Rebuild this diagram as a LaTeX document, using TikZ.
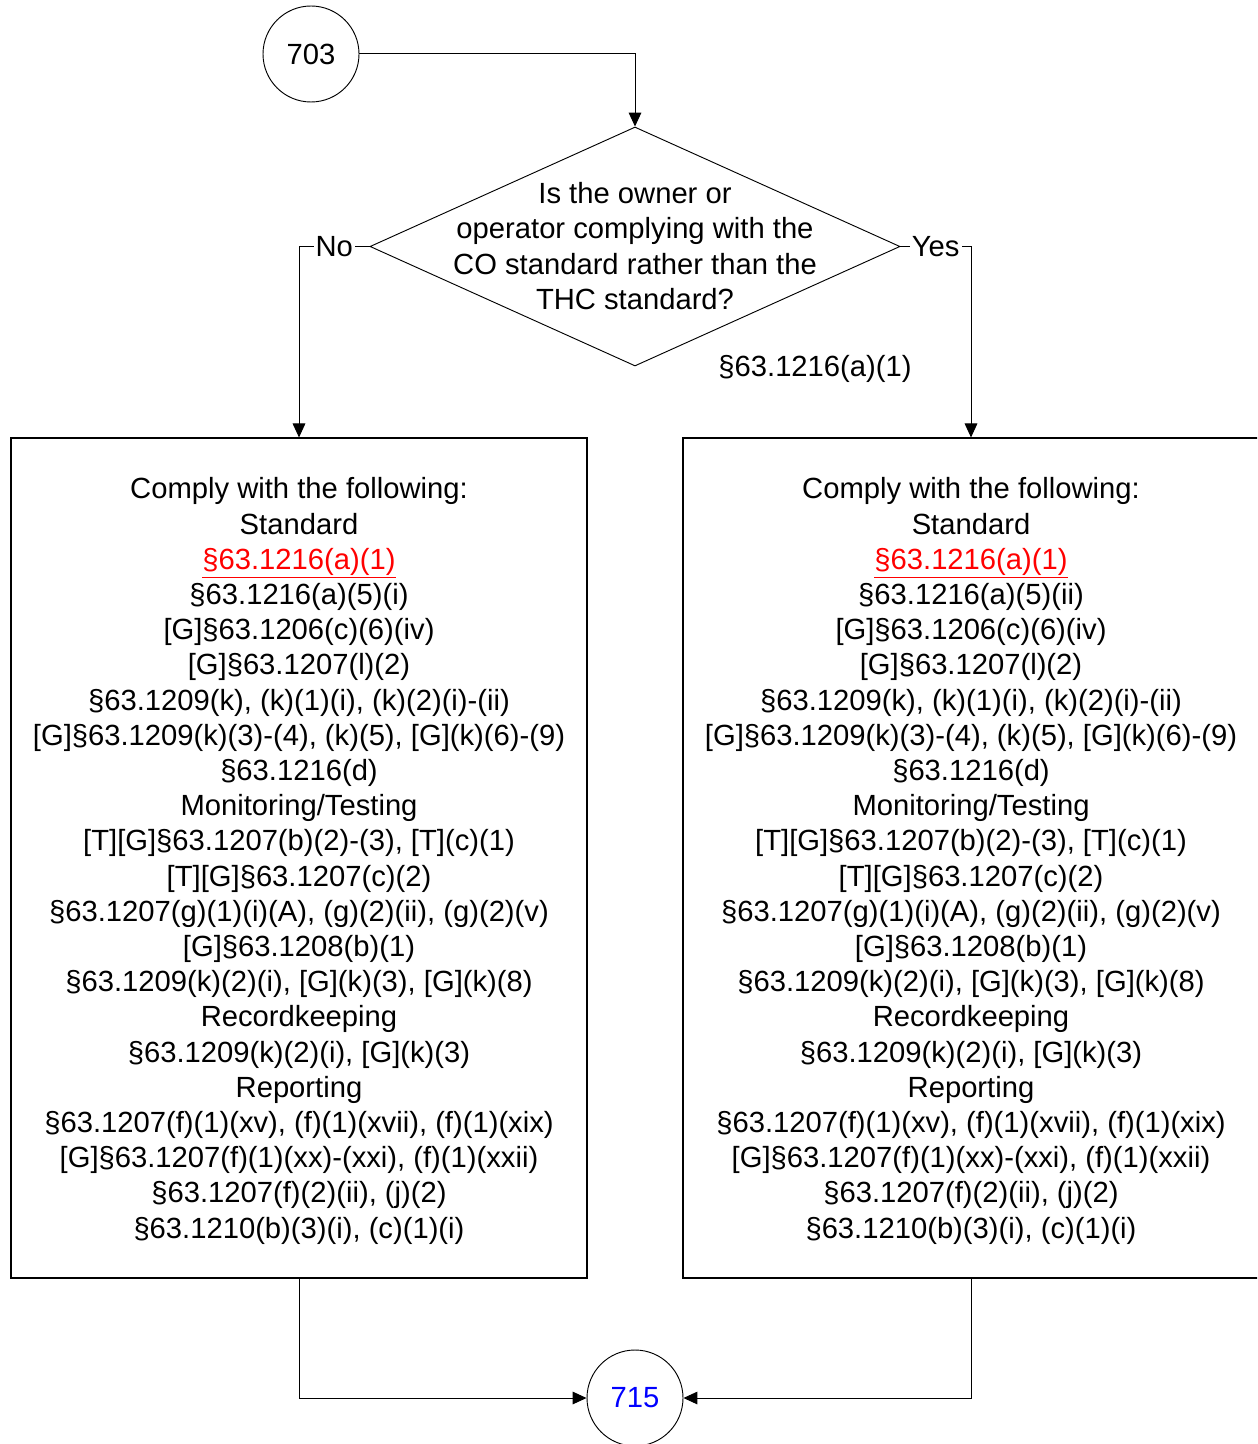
\documentclass[tikz,border=0pt]{standalone}
\usepackage{fontspec}
\setmainfont{Liberation Sans}
\usetikzlibrary{shapes.geometric,arrows.meta}
\definecolor{linkred}{RGB}{255,0,0}
\definecolor{numblue}{RGB}{0,0,255}
\newcommand{\redref}{\textcolor{linkred}{\underline{§63.1216(a)(1)}}}
\begin{document}
\begin{tikzpicture}[x=0.75pt,y=-0.75pt,
  txt/.style={font=\fontsize{21.9}{26.4}\selectfont, align=center, inner sep=0pt},
  conn/.style={circle, draw, line width=0.7pt, minimum size=72pt, inner sep=0pt, font=\fontsize{21.9}{26.4}\selectfont},
  dec/.style={diamond, draw, line width=0.7pt, minimum width=397.5pt, minimum height=179.25pt, inner sep=0pt},
  bigbox/.style={rectangle, draw, line width=0.8pt, minimum width=432pt, minimum height=630pt, inner sep=0pt},
  arr/.style={line width=0.75pt, -{Triangle[length=10.5pt,width=9.5pt]}},
  lbl/.style={fill=white, inner sep=1.5pt, font=\fontsize{21.9}{26.4}\selectfont}
]
\path[use as bounding box, clip] (0,0) rectangle (1257,1444);

\node[conn] (c703) at (311,54) {703};
\node[dec] (q) at (635,246.5) {};
\node[txt] (qtext) at (635,246) {Is the owner or\\operator complying with the\\CO standard rather than the\\THC standard?};
\node[txt] (qref) at (815,369) {§63.1216(a)(1)};

\node[bigbox] (left) at (299,858) {};
\node[txt] (lefttext) at (299,861) {Comply with the following:\\
Standard\\
\redref\\
§63.1216(a)(5)(i)\\
{}[G]§63.1206(c)(6)(iv)\\
{}[G]§63.1207(l)(2)\\
§63.1209(k), (k)(1)(i), (k)(2)(i)-(ii)\\
{}[G]§63.1209(k)(3)-(4), (k)(5), [G](k)(6)-(9)\\
§63.1216(d)\\
Monitoring/Testing\\
{}[T][G]§63.1207(b)(2)-(3), [T](c)(1)\\
{}[T][G]§63.1207(c)(2)\\
§63.1207(g)(1)(i)(A), (g)(2)(ii), (g)(2)(v)\\
{}[G]§63.1208(b)(1)\\
§63.1209(k)(2)(i), [G](k)(3), [G](k)(8)\\
Recordkeeping\\
§63.1209(k)(2)(i), [G](k)(3)\\
Reporting\\
§63.1207(f)(1)(xv), (f)(1)(xvii), (f)(1)(xix)\\
{}[G]§63.1207(f)(1)(xx)-(xxi), (f)(1)(xxii)\\
§63.1207(f)(2)(ii), (j)(2)\\
§63.1210(b)(3)(i), (c)(1)(i)};

\node[bigbox] (right) at (971,858) {};
\node[txt] (righttext) at (971,861) {Comply with the following:\\
Standard\\
\redref\\
§63.1216(a)(5)(ii)\\
{}[G]§63.1206(c)(6)(iv)\\
{}[G]§63.1207(l)(2)\\
§63.1209(k), (k)(1)(i), (k)(2)(i)-(ii)\\
{}[G]§63.1209(k)(3)-(4), (k)(5), [G](k)(6)-(9)\\
§63.1216(d)\\
Monitoring/Testing\\
{}[T][G]§63.1207(b)(2)-(3), [T](c)(1)\\
{}[T][G]§63.1207(c)(2)\\
§63.1207(g)(1)(i)(A), (g)(2)(ii), (g)(2)(v)\\
{}[G]§63.1208(b)(1)\\
§63.1209(k)(2)(i), [G](k)(3), [G](k)(8)\\
Recordkeeping\\
§63.1209(k)(2)(i), [G](k)(3)\\
Reporting\\
§63.1207(f)(1)(xv), (f)(1)(xvii), (f)(1)(xix)\\
{}[G]§63.1207(f)(1)(xx)-(xxi), (f)(1)(xxii)\\
§63.1207(f)(2)(ii), (j)(2)\\
§63.1210(b)(3)(i), (c)(1)(i)};

\node[conn, text=numblue] (c715) at (635,1398) {715};

\draw[arr] (c703.east) -| (q.north);
\draw[arr] (q.west) -- node[lbl] {No} (q.west -| left.north) -- (left.north);
\draw[arr] (q.east) -- node[lbl] {Yes} (q.east -| right.north) -- (right.north);
\draw[arr] (left.south) |- (c715.west);
\draw[arr] (right.south) |- (c715.east);
\end{tikzpicture}
\end{document}
